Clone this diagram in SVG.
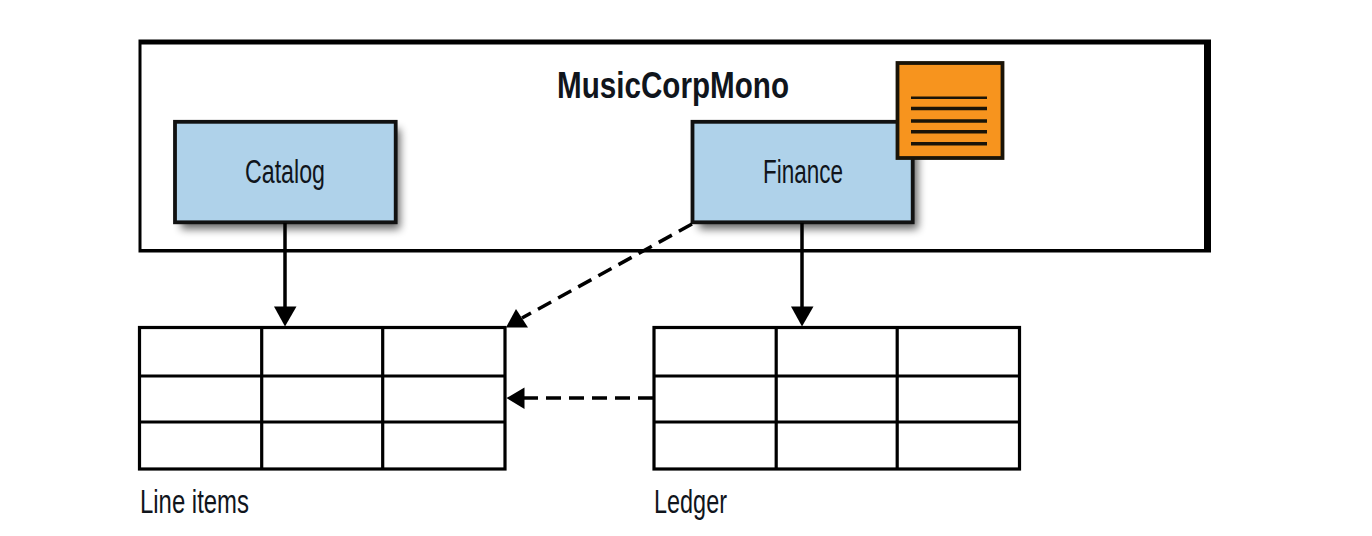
<svg xmlns="http://www.w3.org/2000/svg" width="1372" height="536" viewBox="0 0 1372 536">
<defs>
<filter id="sh" x="-10%" y="-15%" width="125%" height="140%"><feGaussianBlur stdDeviation="4"/></filter>
<g id="tbl"><rect x="0" y="0" width="365.500" height="141.500"/><path d="M122.200 0V141.500M243.200 0V141.500M0 48.500H365.500M0 94.500H365.500"/></g>
</defs>
<style>
.t{font-family:"Liberation Sans","Arial Narrow",sans-serif;fill:#10151c}
.lab{font-size:33px}
.box{fill:#afd2ea;stroke:#111;stroke-width:3.800}
.grid{fill:#fff;stroke:#000;stroke-width:3.200}
.con{fill:none;stroke:#000;stroke-width:3.500}
.dash{stroke-dasharray:15 8}
.head{fill:#000;stroke:none}
</style>
<rect width="1372" height="536" fill="#fff"/>
<g id="monolith">
<path fill="#000" fill-rule="evenodd" d="M138.500 39.500H1211V252.500H138.500ZM141.500 44.500V249H1204V44.500Z"/>
<text class="t" x="673" y="98" font-size="36" font-weight="700" text-anchor="middle" textLength="232" lengthAdjust="spacingAndGlyphs">MusicCorpMono</text>
</g>
<g id="catalog">
<rect x="181" y="129" width="219" height="100" fill="#000" opacity=".6" filter="url(#sh)"/>
<rect class="box" x="175" y="121.800" width="220.700" height="100.500"/>
<text class="t lab" x="285" y="183.300" text-anchor="middle" textLength="80" lengthAdjust="spacingAndGlyphs">Catalog</text>
</g>
<g id="finance">
<rect x="699" y="129" width="219" height="100" fill="#000" opacity=".6" filter="url(#sh)"/>
<rect class="box" x="692.500" y="121.800" width="220.200" height="100.500"/>
<text class="t lab" x="803" y="183.300" text-anchor="middle" textLength="80" lengthAdjust="spacingAndGlyphs">Finance</text>
</g>
<g id="document">
<rect x="897.500" y="63" width="105" height="95" fill="#f7941e" stroke="#1a1408" stroke-width="3.800"/>
<path d="M911 97.800H987" stroke="#1a1408" stroke-width="2.600" fill="none"/>
<path d="M911 108.500H987M911 121H987M911 131.800H987M911 143.800H987" stroke="#1a1408" stroke-width="3.600" fill="none"/>
</g>
<g id="line-items">
<use href="#tbl" class="grid" x="139.500" y="327.500"/>
<text class="t lab" x="140" y="513.300" textLength="109" lengthAdjust="spacingAndGlyphs">Line items</text>
</g>
<g id="ledger">
<use href="#tbl" class="grid" x="654" y="327.500"/>
<text class="t lab" x="654" y="513.300" textLength="73" lengthAdjust="spacingAndGlyphs">Ledger</text>
</g>
<g id="connectors">
<path class="con" d="M285 223V308"/>
<path class="head" d="M274 306.500H296.500L285 326.500Z"/>
<path class="con" d="M802 223V308"/>
<path class="head" d="M791 306.500H813.500L802 326.500Z"/>
<path class="con dash" d="M692 224L522 318"/>
<path class="head" d="M506 327.500L516 309L528 327.500Z"/>
<path class="con dash" d="M653 398H522"/>
<path class="head" d="M506.500 398L524.500 387.500V409Z"/>
</g>
</svg>
